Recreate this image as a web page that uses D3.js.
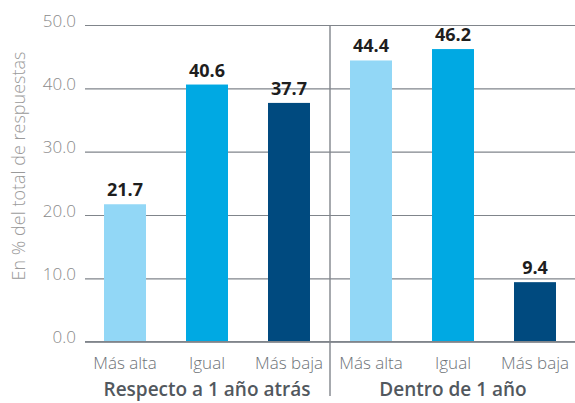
<!DOCTYPE html>
<html>
<head>
<meta charset="utf-8">
<script src="https://cdn.jsdelivr.net/npm/d3@7"></script>
<style>
  html, body { margin: 0; padding: 0; background: #fff; }
  svg { display: block; font-family: "Open Sans", sans-serif; }
</style>
</head>
<body>
<svg id="chart" width="575" height="403"></svg>
<script>
// Expectation survey: share of answers per option, two time frames
const groups = ["Respecto a 1 año atrás", "Dentro de 1 año"];
const categories = ["Más alta", "Igual", "Más baja"];
const valuesPast = [21.7, 40.6, 37.7];
const valuesAhead = [44.4, 46.2, 9.4];
const yTicks = [0, 10, 20, 30, 40, 50];
const yTitle = "En % del total de respuestas";
const colors = ["#92d7f6", "#00a9e3", "#004a7f"];

const rows = [];
[valuesPast, valuesAhead].forEach((vals, g) => {
  vals.forEach((v, i) => rows.push({ key: g + "-" + i, group: g, cat: i, value: v }));
});

const svg = d3.select("#chart");
const x = d3.scaleBand()
  .domain(rows.map(d => d.key))
  .range([84, 576])
  .paddingInner(0.488)
  .paddingOuter(0.244);
const y = d3.scaleLinear().domain([0, 50]).range([341.7, 25]);

// horizontal grid
const grid = svg.append("g")
  .attr("transform", "translate(85,0)")
  .call(d3.axisLeft(y).tickValues(yTicks).tickSize(-495).tickFormat(d3.format(".1f")).tickPadding(9));
grid.select(".domain").remove();
grid.selectAll(".tick line").attr("stroke", "#80858b").attr("stroke-width", 1.2);
grid.selectAll(".tick text")
  .attr("fill", "#8a8a8a")
  .attr("font-size", 17)
  .attr("font-weight", 300)
  .attr("dy", 1)
  .attr("font-family", "'Open Sans', sans-serif");

// bars
svg.append("g").selectAll("rect")
  .data(rows).join("rect")
  .attr("x", d => x(d.key))
  .attr("width", x.bandwidth())
  .attr("y", d => y(d.value))
  .attr("height", d => y(0) - y(d.value))
  .attr("fill", d => colors[d.cat]);

// baseline
svg.append("line")
  .attr("x1", 85).attr("x2", 575)
  .attr("y1", y(0)).attr("y2", y(0))
  .attr("stroke", "#80858b").attr("stroke-width", 1.6);

// value labels
svg.append("g").selectAll("text")
  .data(rows).join("text")
  .attr("x", d => x(d.key) + x.bandwidth() / 2)
  .attr("y", d => y(d.value) - 8)
  .attr("text-anchor", "middle")
  .attr("font-size", 18)
  .attr("font-weight", 700)
  .attr("fill", "#1e1e1e")
  .text(d => d.value.toFixed(1));

// separator between the two time frames
const sepX = (x(rows[2].key) + x.bandwidth() + x(rows[3].key)) / 2;
svg.append("line")
  .attr("x1", sepX).attr("x2", sepX)
  .attr("y1", 25).attr("y2", 396)
  .attr("stroke", "#80858b").attr("stroke-width", 1.4);

// category labels
svg.append("g").selectAll("text")
  .data(rows).join("text")
  .attr("x", d => x(d.key) + x.bandwidth() / 2)
  .attr("y", 369)
  .attr("text-anchor", "middle")
  .attr("font-size", 17)
  .attr("font-weight", 300)
  .attr("fill", "#6e7378")
  .text(d => categories[d.cat]);

// group labels
groups.forEach((g, gi) => {
  const first = x(rows[gi * 3].key);
  const last = x(rows[gi * 3 + 2].key) + x.bandwidth();
  svg.append("text")
    .attr("x", (first + last) / 2)
    .attr("y", 396)
    .attr("text-anchor", "middle")
    .attr("font-size", 19)
    .attr("font-weight", 600)
    .attr("fill", "#52585e")
    .text(g);
});

// y axis title
svg.append("text")
  .attr("transform", "translate(25,166) rotate(-90)")
  .attr("text-anchor", "middle")
  .attr("font-size", 18)
  .attr("font-weight", 300)
  .attr("fill", "#9a9a9a")
  .text(yTitle);
</script>
</body>
</html>
